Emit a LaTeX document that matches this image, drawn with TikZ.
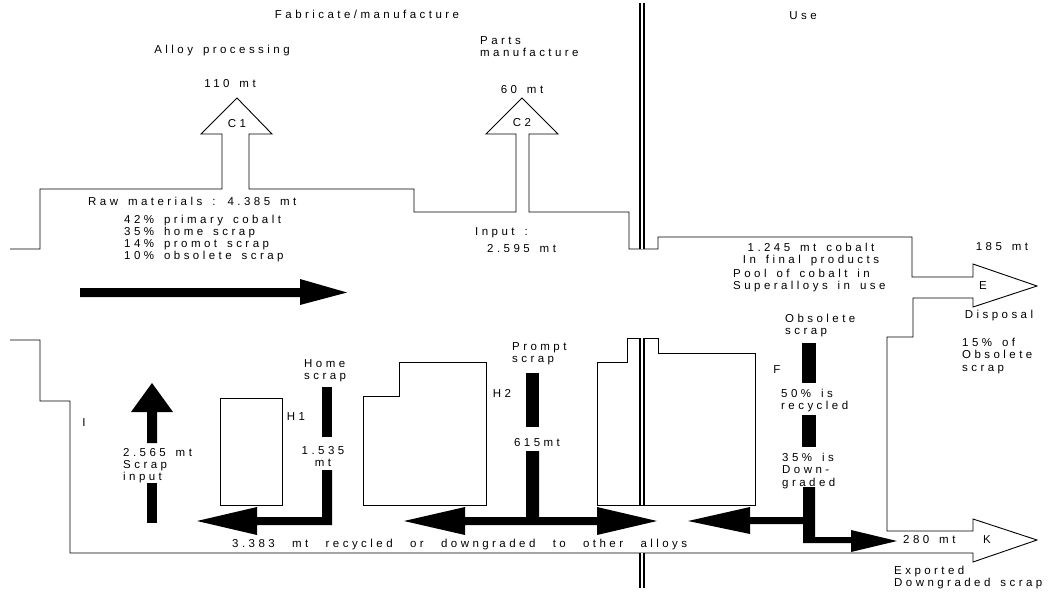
\documentclass[tikz,border=0pt]{standalone}
\usepackage{fontspec}
\setmainfont{Liberation Sans}
\newfontfamily\lblfont[LetterSpace=30,WordSpace=1.5]{Liberation Sans}
\newcommand{\lbl}{\lblfont\fontsize{11.5}{12.3}\selectfont}
\tikzset{
  outline/.style={line width=0.9pt, line join=miter},
  blk/.style={fill=black, draw=none},
  txt/.style={inner sep=0pt, font=\lbl},
  dbarout/.style={line width=6pt, black},
  dbarin/.style={line width=1.2pt, white},
}
\begin{document}
\begin{tikzpicture}[x=1pt,y=-1pt]
\useasboundingbox (0,0) rectangle (1058,592);

% main flow outline
\draw[outline] (10,249) -- (40,249) -- (40,189) -- (222,189) -- (222,134) -- (201,134)
  -- (237,98) -- (272,134) -- (249,134) -- (249,189) -- (414,189) -- (414,212)
  -- (516,212) -- (516,134) -- (486,134) -- (522,98) -- (558,134) -- (529,134)
  -- (529,212) -- (629,212) -- (629,249) -- (658,249) -- (658,237) -- (912,237)
  -- (912,277) -- (973,277) -- (973,264) -- (1037,286) -- (973,307) -- (973,298)
  -- (913,298) -- (913,337) -- (887,337) -- (887,531) -- (973,531) -- (973,519)
  -- (1037,540) -- (973,562) -- (973,553) -- (70,553) -- (70,401) -- (40,401)
  -- (40,340) -- (10,340);

% inner boxes
\draw[outline] (220,398) rectangle (282,505);
\draw[outline] (363,505) -- (363,396) -- (399,396) -- (399,362) -- (486,362) -- (486,505) -- cycle;
\draw[outline] (597,505) -- (597,362) -- (627,362) -- (627,338) -- (658,338) -- (658,353) -- (755,353) -- (755,505) -- cycle;

% boundary double bar
\foreach \a/\b in {3/249, 338/505, 553/588}{
  \draw[dbarout] (642,\a) -- (642,\b);
  \draw[dbarin] (642,\a) -- (642,\b);
}

% main black arrow
\fill[blk] (80,288) -- (300,288) -- (300,279) -- (347,292.5) -- (300,305) -- (300,297) -- (80,297) -- cycle;

% scrap input arrow
\fill[blk] (147,443) -- (147,412) -- (131,412) -- (152,383) -- (173,412) -- (157,412) -- (157,443) -- cycle;
\fill[blk] (147,483) rectangle (157,523);

% home scrap
\fill[blk] (322,387) rectangle (332,437);
\fill[blk] (322,470) -- (332,470) -- (332,525) -- (257,525) -- (257,535) -- (197,521)
  -- (257,507) -- (257,517) -- (322,517) -- cycle;

% prompt scrap
\fill[blk] (526,373) rectangle (539,427);
\fill[blk] (526,451) -- (539,451) -- (539,517) -- (597,517) -- (597,507) -- (657,521)
  -- (597,535) -- (597,525) -- (465,525) -- (465,535) -- (404,521) -- (465,507)
  -- (465,517) -- (526,517) -- cycle;

% obsolete scrap
\fill[blk] (802,343) rectangle (816,383);
\fill[blk] (802,415) rectangle (816,447);
\fill[blk] (803,487) -- (815,487) -- (815,537) -- (851,537) -- (851,530) -- (897,541)
  -- (851,552) -- (851,543) -- (803,543) -- (803,524) -- (750,524) -- (750,534)
  -- (688,521) -- (750,507) -- (750,517) -- (803,517) -- cycle;

% texts
\node[txt] (fab) at (367,14) {Fabricate/manufacture};
\node[txt] (use) at (803,16) {Use};
\node[txt] (alloy) at (222,51) {Alloy processing};
\node[txt] (c1v) at (230,84) {110 mt};
\node[txt] (c1) at (237,124) {C1};
\node[txt, anchor=north west, align=left] (parts) at (480,36.5) {Parts\\manufacture};
\node[txt] (c2v) at (522,90) {60 mt};
\node[txt] (c2) at (522,123) {C2};
\node[txt, anchor=west] (raw) at (88,201) {Raw materials : 4.385 mt};
\node[txt, anchor=north west, align=left] (mix) at (124,214.5) {42\% primary cobalt\\35\% home scrap\\14\% promot scrap\\10\% obsolete scrap};
\node[txt, anchor=west] (inp) at (475,233) {Input :};
\node[txt, anchor=west] (inpv) at (487,249) {2.595 mt};
\node[txt, align=center] (final) at (811,254.5) {1.245 mt cobalt\\In final products};
\node[txt, anchor=north west, align=left] (pool) at (733,269) {Pool of cobalt in\\Superalloys in use};
\node[txt] (ev) at (1002,247) {185 mt};
\node[txt] (e) at (983,286) {E};
\node[txt] (disp) at (999,316) {Disposal};
\node[txt, anchor=north west, align=left] (fifteen) at (962,338) {15\% of\\Obsolete\\scrap};
\node[txt, anchor=north west, align=left] (obs) at (785,314) {Obsolete\\scrap};
\node[txt] (f) at (777,370) {F};
\node[txt, anchor=north west, align=left] (fifty) at (781,389) {50\% is\\recycled};
\node[txt, anchor=north west, align=left] (thirtyfive) at (782,453) {35\% is\\Down-\\graded};
\node[txt, anchor=west] (k280) at (903,540) {280 mt};
\node[txt] (k) at (987,540) {K};
\node[txt, anchor=north west, align=left] (exp) at (894,566) {Exported\\Downgraded scrap};
\node[txt, anchor=west] (rec) at (232,545) {\makebox[455pt][s]{3.383 mt recycled or downgraded to other alloys}};
\node[txt, anchor=north west, align=left] (scin) at (123,448) {2.565 mt\\Scrap\\input};
\node[txt, anchor=north west, align=left] (home) at (304,359) {Home\\scrap};
\node[txt] (h1) at (296,417) {H1};
\node[txt, align=center] (h1v) at (323,456.5) {1.535\\mt};
\node[txt] (i) at (84,423) {I};
\node[txt] (h2) at (502,393) {H2};
\node[txt, anchor=north west, align=left] (prompt) at (512,342) {Prompt\\scrap};
\node[txt] (h2v) at (537,443) {615mt};
\end{tikzpicture}
\end{document}
